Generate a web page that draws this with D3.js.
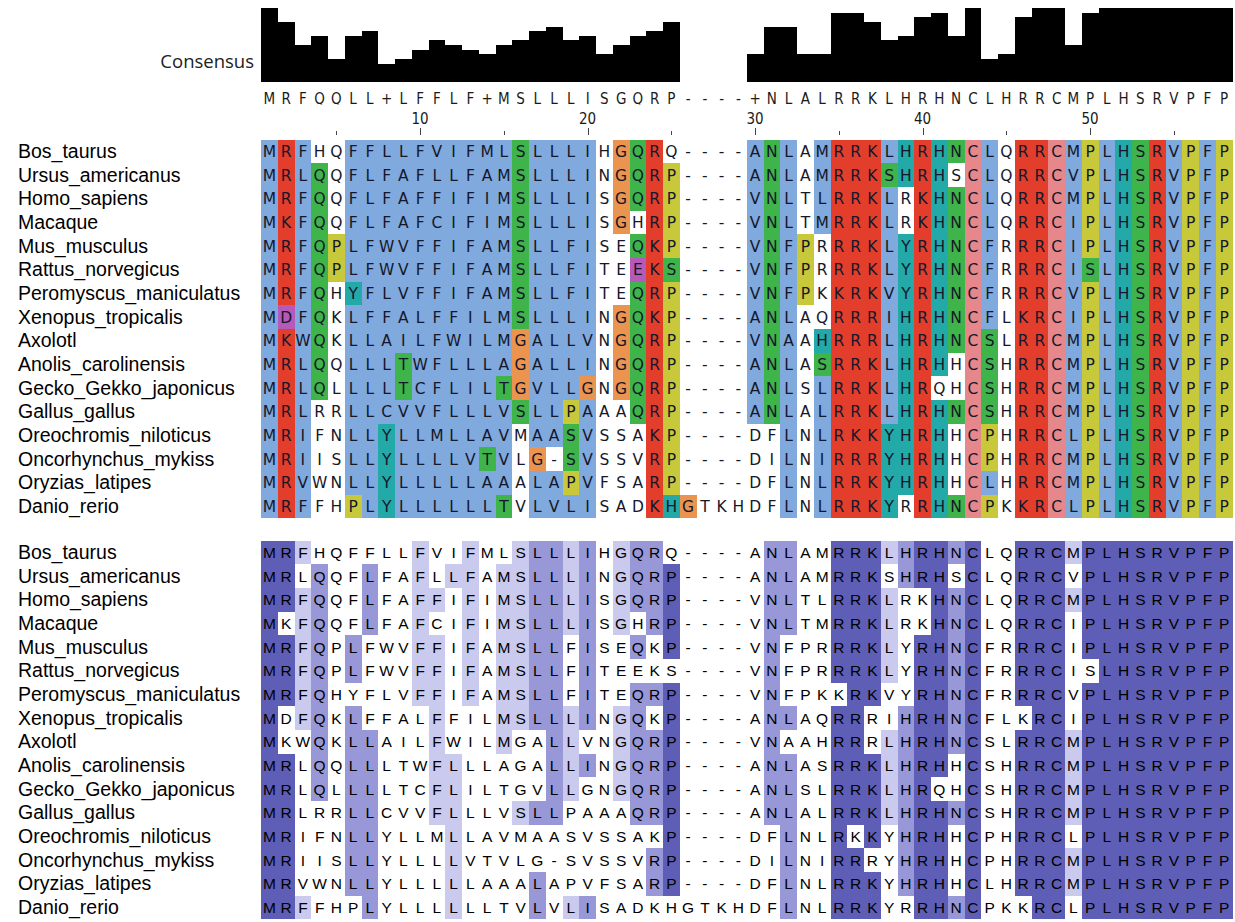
<!DOCTYPE html>
<html>
<head>
<meta charset="utf-8">
<script src="https://cdn.jsdelivr.net/npm/d3@7"></script>
<style>
  body { margin: 0; background: #fff; }
  svg { display: block; }
</style>
</head>
<body>
<svg id="chart" width="1235" height="922"></svg>
<script>
// ---- alignment data ----
const species = [
  "Bos_taurus", "Ursus_americanus", "Homo_sapiens", "Macaque", "Mus_musculus",
  "Rattus_norvegicus", "Peromyscus_maniculatus", "Xenopus_tropicalis", "Axolotl",
  "Anolis_carolinensis", "Gecko_Gekko_japonicus", "Gallus_gallus",
  "Oreochromis_niloticus", "Oncorhynchus_mykiss", "Oryzias_latipes", "Danio_rerio"
];

const sequences = [
  "MRFHQFFLLFVIFMLSLLLIHGQRQ----ANLAMRRKLHRHNCLQRRCMPLHSRVPFP",
  "MRLQQFLFAFLLFAMSLLLINGQRP----ANLAMRRKSHRHSCLQRRCVPLHSRVPFP",
  "MRFQQFLFAFFIFIMSLLLISGQRP----VNLTLRRKLRKHNCLQRRCMPLHSRVPFP",
  "MKFQQFLFAFCIFIMSLLLISGHRP----VNLTMRRKLRKHNCLQRRCIPLHSRVPFP",
  "MRFQPLFWVFFIFAMSLLFISEQKP----VNFPRRRKLYRHNCFRRRCIPLHSRVPFP",
  "MRFQPLFWVFFIFAMSLLFITEEKS----VNFPRRRKLYRHNCFRRRCISLHSRVPFP",
  "MRFQHYFLVFFIFAMSLLFITEQRP----VNFPKKRKVYRHNCFRRRCVPLHSRVPFP",
  "MDFQKLFFALFFILMSLLLINGQKP----ANLAQRRRIHRHNCFLKRCIPLHSRVPFP",
  "MKWQKLLAILFWILMGALLVNGQRP----VNAAHRRRLHRHNCSLRRCMPLHSRVPFP",
  "MRLQQLLLTWFLLLAGALLINGQRP----ANLASRRKLHRHHCSHRRCMPLHSRVPFP",
  "MRLQLLLLTCFLILTGVLLGNGQRP----ANLSLRRKLHRQHCSHRRCMPLHSRVPFP",
  "MRLRRLLCVVFLLLVSLLPAAAQRP----ANLALRRKLHRHNCSHRRCMPLHSRVPFP",
  "MRIFNLLYLLMLLAVMAASVSSAKP----DFLNLRKKYHRHHCPHRRCLPLHSRVPFP",
  "MRIISLLYLLLLVTVLG-SVSSVRP----DILNIRRRYHRHHCPHRRCMPLHSRVPFP",
  "MRVWNLLYLLLLLAAALAPVFSARP----DFLNLRRKYHRHHCLHRRCMPLHSRVPFP",
  "MRFFHPLYLLLLLLTVLVLISADKHGTKHDFLNLRRKYRRHNCPKKRCLPLHSRVPFP"
];

// ClustalX class of every residue (b hydrophobic, r positive, m negative,
// g polar, p cysteine, o glycine, y proline, c aromatic, . unshaded)
const clustalClasses = [
  "brb..bbbbbbbbbbgbbbb.ogr.....bgb.brrrbcrcgpb.rrpbybcgrbyby",
  "brbg.bbbbbbbbbbgbbbb.ogry....bgb.brrrgcrc.pb.rrpbybcgrbyby",
  "brbg.bbbbbbbbbbgbbbb.ogry....bgb.brrrb.rcgpb.rrpbybcgrbyby",
  "brbg.bbbbbbbbbbgbbbb.o.ry....bgb.brrrb.rcgpb.rrpbybcgrbyby",
  "brbgybbbbbbbbbbgbbbb..gry....bgby.rrrbcrcgpb.rrpbybcgrbyby",
  "brbgybbbbbbbbbbgbbbb..mrg....bgby.rrrbcrcgpb.rrpbgbcgrbyby",
  "brbg.cbbbbbbbbbgbbbb..gry....bgby.rrrbcrcgpb.rrpbybcgrbyby",
  "bmbg.bbbbbbbbbbgbbbb.ogry....bgb..rrrbcrcgpb.rrpbybcgrbyby",
  "brbg.bbbbbbbbbbobbbb.ogry....bgb.crrrbcrcgpg.rrpbybcgrbyby",
  "brbg.bbbgbbbbbbobbbb.ogry....bgb.grrrbcrc.pg.rrpbybcgrbyby",
  "brbg.bbbgbbbbbgobbbo.ogry....bgb.brrrbcr..pg.rrpbybcgrbyby",
  "brb..bbbbbbbbbbgbbyb..gry....bgb.brrrbcrcgpg.rrpbybcgrbyby",
  "brb..bbcbbbbbbb.bbgb...ry......b.brrrccrc.py.rrpbybcgrbyby",
  "brb..bbcbbbbbgb.o.gb...ry......b.brrrccrc.py.rrpbybcgrbyby",
  "brb..bbcbbbbbbb.bbyb...ry......b.brrrccrc.pb.rrpbybcgrbyby",
  "brb..ybcbbbbbbg.bbbb...rco.....b.brrrc.rcgpy.rrpbybcgrbyby"
];

// consensus residue per column ('+' = tie, '-' = gap)
const consensusResidues = "MRFQQLL+LFFLF+MSLLLISGQRP----+NLALRRKLHRHNCLHRRCMPLHSRVPFP";

// share of sequences carrying the consensus residue, per column (%)
const consensusPercent = [
  100, 81.25, 50, 62.5, 31.25, 62.5, 68.75, 25, 31.25, 43.75,
  56.25, 50, 43.75, 37.5, 50, 56.25, 68.75, 75, 56.25, 62.5,
  37.5, 50, 62.5, 68.75, 81.25, 0, 0, 0, 0, 37.5,
  75, 75, 37.5, 37.5, 93.75, 93.75, 81.25, 56.25, 62.5, 87.5,
  93.75, 62.5, 100, 31.25, 37.5, 87.5, 100, 100, 50, 93.75,
  100, 100, 100, 100, 100, 100, 100, 100
];

const rulerLabels = [10, 20, 30, 40, 50];
const rulerTicks = [5, 10, 15, 20, 25, 30, 35, 40, 45, 50, 55];

// ---- scales ----
const nCols = consensusPercent.length;
const svg = d3.select("#chart");

const x = d3.scaleBand().domain(d3.range(nCols)).range([261, 1232.5]);
const yBar = d3.scaleLinear().domain([0, 100]).range([82, 8]);
const rowsTop = d3.scaleBand().domain(species).range([139.5, 518.2]);
const rowsBottom = d3.scaleBand().domain(species).range([540.5, 919.2]);

const clustalColour = d3.scaleOrdinal()
  .domain(["b", "r", "m", "g", "p", "o", "y", "c"])
  .range(["#80a9dd", "#e33e2c", "#b55ab8", "#3fb44b", "#e6878b", "#ea9450", "#c8c93a", "#22a9a8"]);

const identityColour = d3.scaleThreshold()
  .domain([40, 60, 80])
  .range([null, "#cacaee", "#9898d8", "#5e5eb6"]);

// pixel-snapped cell edges so that neighbouring cells join without seams
const colLeft = c => Math.round(c < nCols ? x(c) : x.range()[1]);
const colCenter = c => x(c) + x.bandwidth() / 2;
const rowTop = (rows, r) => Math.round(r < species.length ? rows(species[r]) : rows.range()[1]);

// ---- consensus histogram ----
svg.append("g").attr("shape-rendering", "crispEdges")
  .selectAll("rect")
  .data(consensusPercent)
  .join("rect")
  .attr("x", (d, i) => colLeft(i))
  .attr("width", (d, i) => colLeft(i + 1) - colLeft(i))
  .attr("y", d => Math.round(yBar(d)))
  .attr("height", d => Math.round(yBar(0)) - Math.round(yBar(d)))
  .attr("fill", "#000");

svg.append("text")
  .attr("x", 254).attr("y", 68)
  .attr("text-anchor", "end")
  .attr("font-family", "'Open Sans', sans-serif")
  .attr("font-size", 18.5)
  .attr("fill", "#222")
  .text("Consensus");

// consensus sequence row (glyph tails cut at the row edge)
svg.append("clipPath").attr("id", "consClip")
  .append("rect").attr("x", 255).attr("y", 86).attr("width", 985).attr("height", 18.6);

svg.append("g").attr("clip-path", "url(#consClip)")
  .selectAll("text")
  .data(consensusResidues.split(""))
  .join("text")
  .attr("x", (d, i) => colCenter(i))
  .attr("y", 104)
  .attr("text-anchor", "middle")
  .attr("font-family", "'DejaVu Sans Condensed', 'DejaVu Sans', sans-serif")
  .attr("font-size", 15)
  .attr("fill", "#1a1a1a")
  .text(d => d);

// ruler
svg.append("g").selectAll("text")
  .data(rulerLabels)
  .join("text")
  .attr("x", d => colCenter(d - 1))
  .attr("y", 124)
  .attr("text-anchor", "middle")
  .attr("font-family", "'DejaVu Sans Condensed', 'DejaVu Sans', sans-serif")
  .attr("font-size", 15)
  .attr("fill", "#1a1a1a")
  .text(d => d);

svg.append("g").selectAll("line")
  .data(rulerTicks)
  .join("line")
  .attr("x1", d => Math.round(colCenter(d - 1)) + 0.5)
  .attr("x2", d => Math.round(colCenter(d - 1)) + 0.5)
  .attr("y1", d => d % 10 === 0 ? 128 : 131).attr("y2", 135)
  .attr("stroke", "#444").attr("stroke-width", 1);

// ---- alignment blocks ----
function drawBlock(rows, shade, fontFamily, textColour) {
  const g = svg.append("g");
  species.forEach((name, r) => {
    const seq = sequences[r];
    const cells = seq.split("").map((aa, c) => ({ aa, c, fill: shade(aa, r, c) }));
    const y0 = rowTop(rows, r), y1 = rowTop(rows, r + 1);
    const rowG = g.append("g");
    rowG.append("g").attr("shape-rendering", "crispEdges")
      .selectAll("rect")
      .data(cells.filter(d => d.fill))
      .join("rect")
      .attr("x", d => colLeft(d.c))
      .attr("y", y0)
      .attr("width", d => colLeft(d.c + 1) - colLeft(d.c))
      .attr("height", y1 - y0)
      .attr("fill", d => d.fill);
    rowG.selectAll("text")
      .data(cells)
      .join("text")
      .attr("x", d => colCenter(d.c))
      .attr("y", rows(name) + rows.bandwidth() / 2 + 5.5)
      .attr("text-anchor", "middle")
      .attr("font-family", fontFamily)
      .attr("font-size", 15.5)
      .attr("fill", textColour)
      .text(d => d.aa);
    g.append("text")
      .attr("x", 18)
      .attr("y", rows(name) + rows.bandwidth() / 2 + 6.5)
      .attr("font-family", "'Liberation Sans', Arial, sans-serif")
      .attr("font-size", 19.5)
      .attr("fill", "#000")
      .text(name);
  });
}

// ClustalX colouring
drawBlock(rowsTop,
  (aa, r, c) => {
    const k = clustalClasses[r][c];
    return k === "." ? null : clustalColour(k);
  },
  "'DejaVu Sans', sans-serif", "#15172a");

// percentage identity colouring
drawBlock(rowsBottom,
  (aa, r, c) => aa === consensusResidues[c] ? identityColour(consensusPercent[c]) : null,
  "'Liberation Sans', Arial, sans-serif", "#000");
</script>
</body>
</html>
